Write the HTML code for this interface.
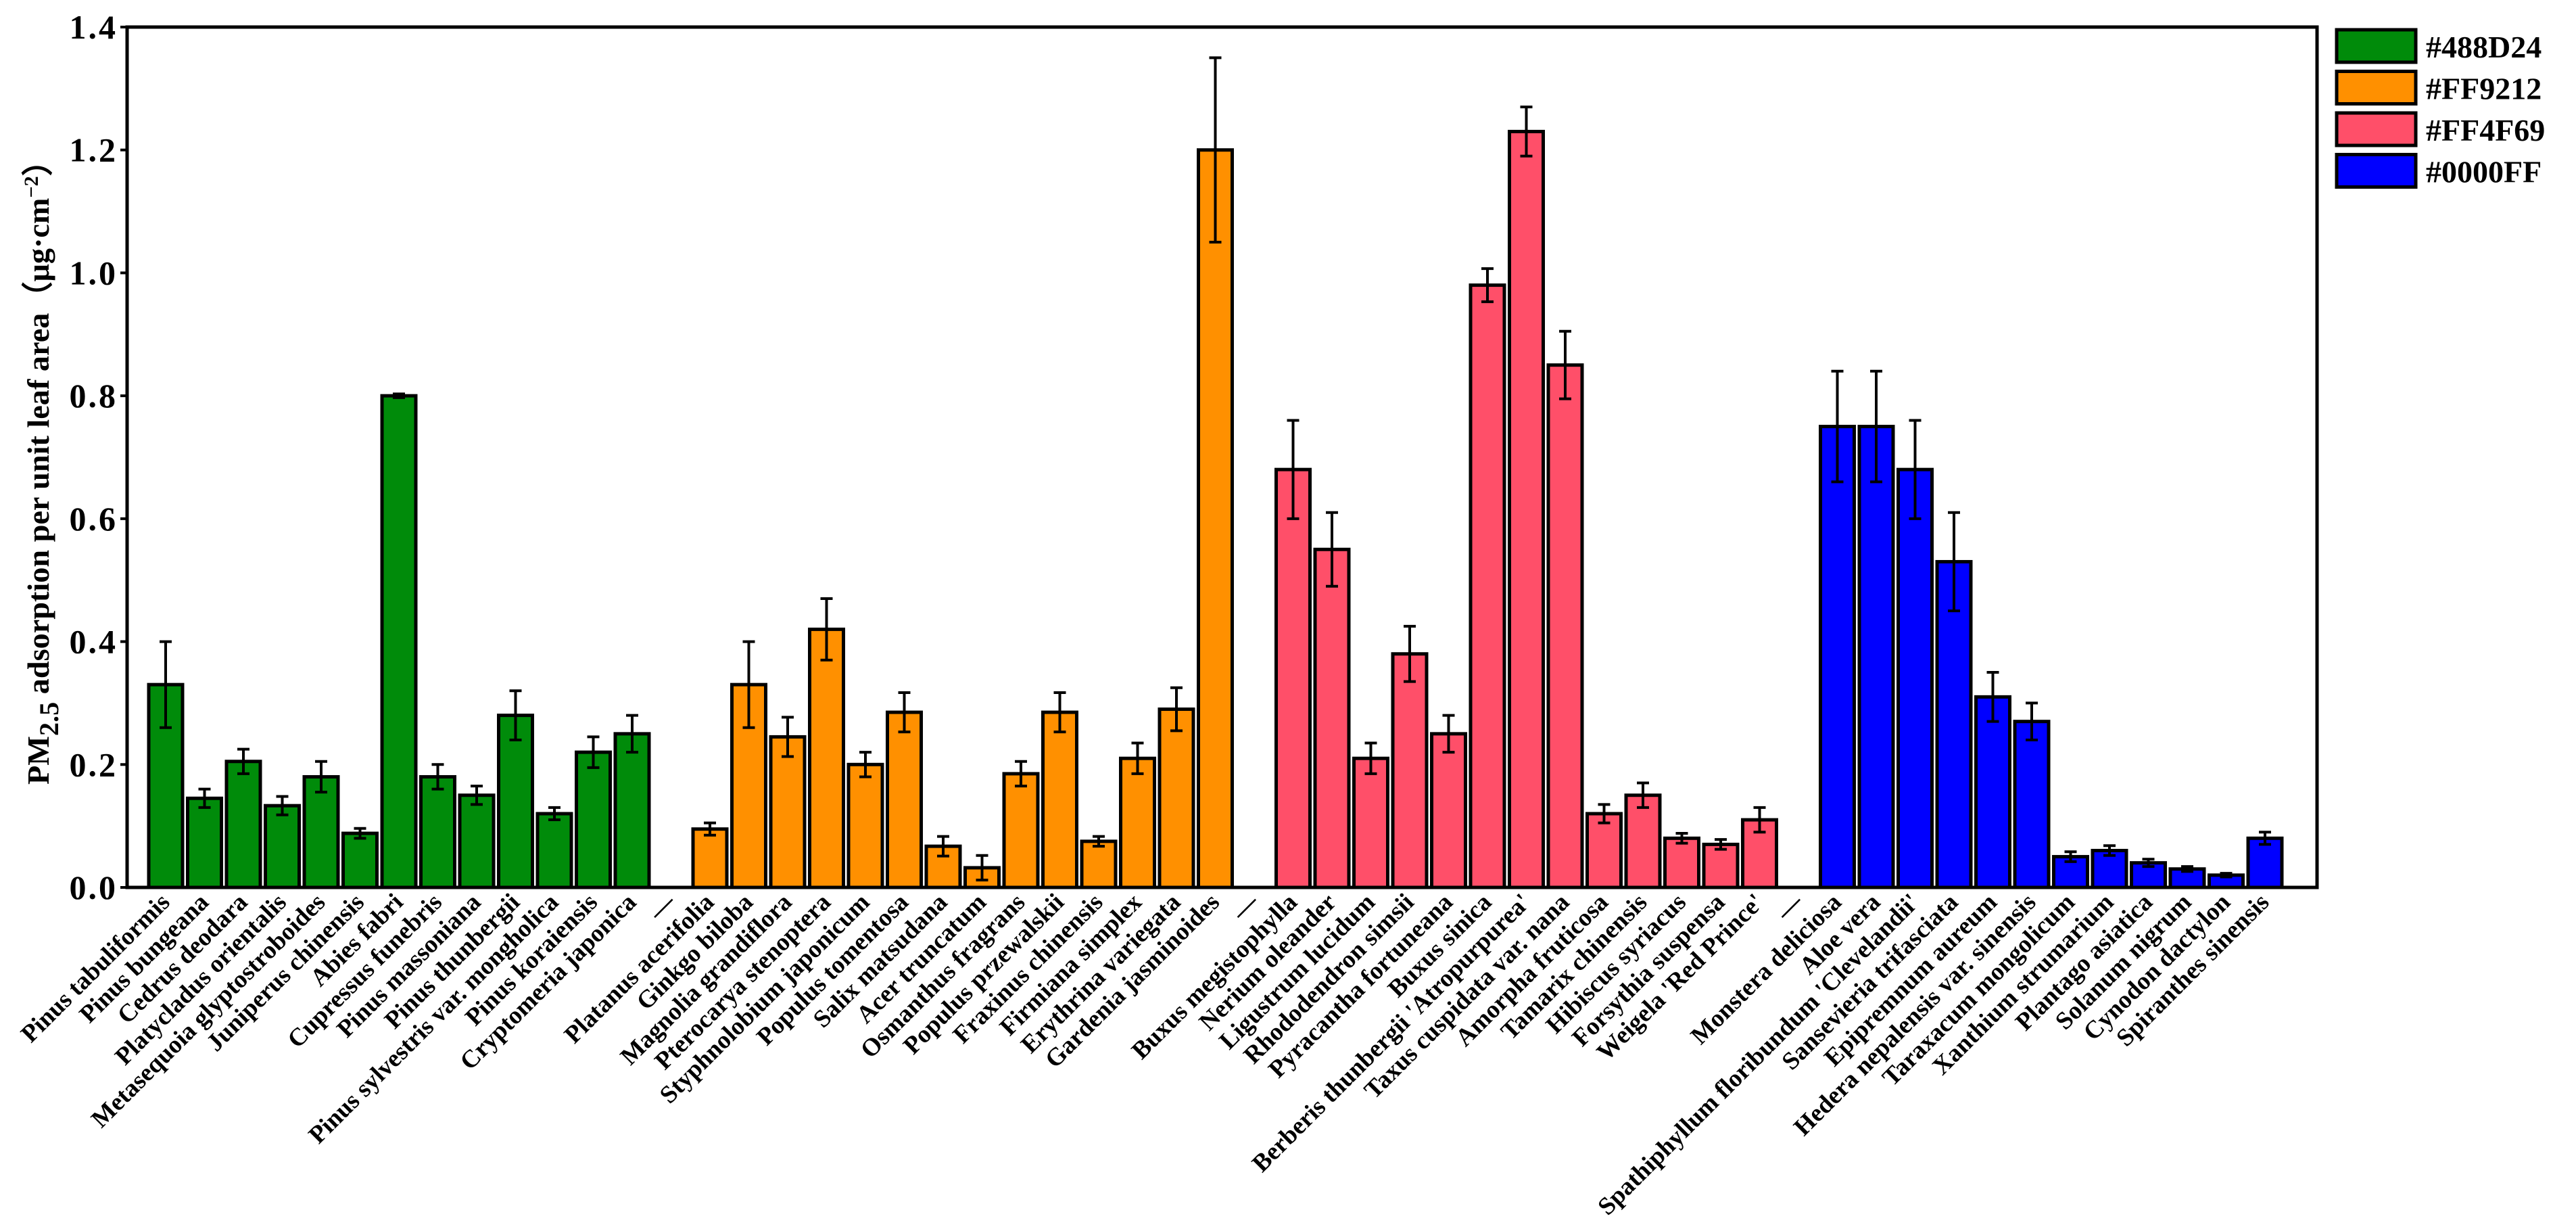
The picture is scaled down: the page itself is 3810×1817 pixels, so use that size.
<!DOCTYPE html>
<html><head><meta charset="utf-8"><style>
html,body{margin:0;padding:0;background:#fff;}
svg{display:block;font-family:"Liberation Serif",serif;}
</style></head><body>
<svg id="chart" width="3810" height="1817" viewBox="0 0 3810 1817" xmlns="http://www.w3.org/2000/svg">
<g id="plot"></g>
</svg>
<script>
const categories = ["Pinus tabuliformis","Pinus bungeana","Cedrus deodara","Platycladus orientalis","Metasequoia glyptostroboides","Juniperus chinensis","Abies fabri","Cupressus funebris","Pinus massoniana","Pinus thunbergii","Pinus sylvestris var. mongholica","Pinus koraiensis","Cryptomeria japonica","—",
"Platanus acerifolia","Ginkgo biloba","Magnolia grandiflora","Pterocarya stenoptera","Styphnolobium japonicum","Populus tomentosa","Salix matsudana","Acer truncatum","Osmanthus fragrans","Populus przewalskii","Fraxinus chinensis","Firmiana simplex","Erythrina variegata","Gardenia jasminoides","—",
"Buxus megistophylla","Nerium oleander","Ligustrum lucidum","Rhododendron simsii","Pyracantha fortuneana","Buxus sinica","Berberis thunbergii 'Atropurpurea'","Taxus cuspidata var. nana","Amorpha fruticosa","Tamarix chinensis","Hibiscus syriacus","Forsythia suspensa","Weigela 'Red Prince'","—",
"Monstera deliciosa","Aloe vera","Spathiphyllum floribundum 'Clevelandii'","Sansevieria trifasciata","Epipremnum aureum","Hedera nepalensis var. sinensis","Taraxacum mongolicum","Xanthium strumarium","Plantago asiatica","Solanum nigrum","Cynodon dactylon","Spiranthes sinensis"];
const values = [0.33,0.145,0.205,0.133,0.18,0.088,0.80,0.18,0.15,0.28,0.12,0.22,0.25,null,
0.095,0.33,0.245,0.42,0.20,0.285,0.067,0.032,0.185,0.285,0.075,0.21,0.29,1.20,null,
0.68,0.55,0.21,0.38,0.25,0.98,1.23,0.85,0.12,0.15,0.08,0.07,0.11,null,
0.75,0.75,0.68,0.53,0.31,0.27,0.05,0.06,0.04,0.03,0.02,0.08];
const errors = [0.07,0.015,0.02,0.015,0.025,0.008,0.003,0.02,0.015,0.04,0.01,0.025,0.03,null,
0.01,0.07,0.032,0.05,0.02,0.032,0.016,0.02,0.02,0.032,0.008,0.025,0.035,0.15,null,
0.08,0.06,0.025,0.045,0.03,0.027,0.04,0.055,0.015,0.02,0.008,0.008,0.02,null,
0.09,0.09,0.08,0.08,0.04,0.03,0.008,0.008,0.006,0.004,0.003,0.01];
const groups = [0,0,0,0,0,0,0,0,0,0,0,0,0,-1,1,1,1,1,1,1,1,1,1,1,1,1,1,1,-1,2,2,2,2,2,2,2,2,2,2,2,2,2,-1,3,3,3,3,3,3,3,3,3,3,3,3];
const groupColors = ["#008B0A","#FF9000","#FF4F69","#0000FF"];
const legendLabels = ["#488D24","#FF9212","#FF4F69","#0000FF"];
const yTicks = [0.0,0.2,0.4,0.6,0.8,1.0,1.2,1.4];

const NS="http://www.w3.org/2000/svg";
const plot=document.getElementById('plot');
const X0=188,X1=3427,Y0=1312,Y1=40;
const yScale=v=>Y0-(v/1.4)*(Y0-Y1);
const xScale=i=>245+i*57.5;
function mk(tag,attrs,parent){const e=document.createElementNS(NS,tag);for(const k in attrs)e.setAttribute(k,attrs[k]);(parent||plot).appendChild(e);return e;}

categories.forEach((c,i)=>{
  const cx=xScale(i);
  if(values[i]!==null){
    const r=mk('rect',{x:cx-25,y:yScale(values[i]),width:50,height:Y0-yScale(values[i]),fill:groupColors[groups[i]],stroke:'#000','stroke-width':5});
    
    
    const e=errors[i];
    const g=mk('g',{stroke:'#000','stroke-width':4});
    
    
    mk('line',{x1:cx,x2:cx,y1:yScale(values[i]+e),y2:yScale(values[i]-e)},g);
    mk('line',{x1:cx-9,x2:cx+9,y1:yScale(values[i]+e),y2:yScale(values[i]+e)},g);
    mk('line',{x1:cx-9,x2:cx+9,y1:yScale(values[i]-e),y2:yScale(values[i]-e)},g);
  }
  const t=mk('text',{x:0,y:0,transform:`translate(${cx+8},${Y0+24}) rotate(-45)`,'text-anchor':'end','font-size':37,'font-weight':'bold'});
  t.textContent=c;
  
  
});

const frame=mk('rect',{x:X0,y:Y1,width:X1-X0,height:Y0-Y1,fill:'none',stroke:'#000','stroke-width':5});



yTicks.forEach(v=>{
  const y=yScale(v);
  const l=mk('line',{x1:X0-10,x2:X0,y1:y,y2:y,stroke:'#000','stroke-width':4});
  
  
  const t=mk('text',{x:X0-14,y:y+17,'text-anchor':'end','font-size':50,'font-weight':'bold','letter-spacing':3});
  t.textContent=v.toFixed(1);
  
  
});

const yt=mk('text',{transform:'translate(72,687) rotate(-90)','text-anchor':'middle','font-size':46,'font-weight':'bold',textLength:946,lengthAdjust:'spacingAndGlyphs'});


yt.innerHTML='PM<tspan dy="14" font-size="40">2.5</tspan><tspan dy="-14"> adsorption per unit leaf area（μg·cm</tspan><tspan dy="-16" font-size="30">−2</tspan><tspan dy="16">）</tspan>';

legendLabels.forEach((lab,k)=>{
  const y=42+k*61.5;
  const g=mk('g',{});
  
  
  mk('rect',{x:3456,y:y+2,width:117,height:48,fill:groupColors[k],stroke:'#000','stroke-width':5},g);
  const t=mk('text',{x:3588,y:y+43,'font-size':46,'font-weight':'bold'},g);
  t.textContent=lab;
});
</script>
</body></html>
